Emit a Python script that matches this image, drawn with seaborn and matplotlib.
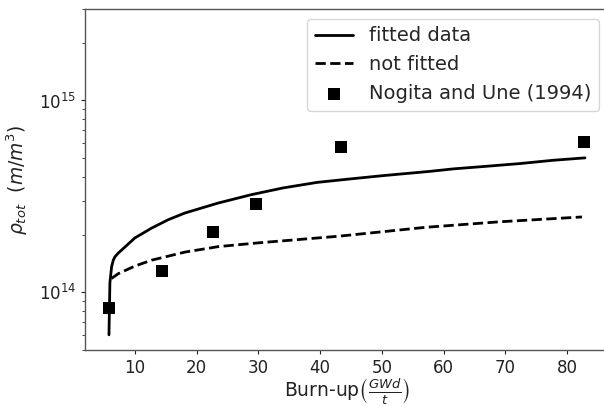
import matplotlib
matplotlib.use("Agg")
import matplotlib.pyplot as plt
import seaborn as sns

# values
fit_x = [5.8, 5.95, 6.23, 6.5, 6.76, 7.3, 10.0, 12.7, 15.4, 18.1, 23.5, 28.9, 34.0,
         39.5, 44.9, 50.3, 57.8, 61.6, 67.0, 72.4, 77.8, 82.9]
fit_y = [6.0e13, 1.12e14, 1.36e14, 1.47e14, 1.53e14, 1.60e14, 1.92e14, 2.16e14,
         2.39e14, 2.59e14, 2.92e14, 3.23e14, 3.50e14, 3.74e14, 3.90e14, 4.06e14,
         4.27e14, 4.40e14, 4.54e14, 4.69e14, 4.88e14, 5.02e14]

nofit_x = [6.2, 7.3, 10.0, 12.7, 18.1, 23.5, 30.0, 43.0, 57.0, 69.0, 82.4]
nofit_y = [1.18e14, 1.25e14, 1.37e14, 1.47e14, 1.62e14, 1.73e14, 1.81e14,
           1.96e14, 2.18e14, 2.33e14, 2.47e14]

exp_x = [5.8, 14.4, 22.65, 29.6, 43.4, 82.7]
exp_y = [8.3e13, 1.29e14, 2.07e14, 2.90e14, 5.71e14, 6.10e14]

sns.set_style("ticks")
plt.rcParams['font.family'] = ['DejaVu Sans']

fig = plt.figure(figsize=(6.04, 4.07), dpi=100)
ax = fig.add_axes([0.141, 0.140, 0.867, 0.838])

sns.lineplot(x=fit_x, y=fit_y, color='black', linewidth=2, label='fitted data', ax=ax)
sns.lineplot(x=nofit_x, y=nofit_y, color='black', linewidth=2, linestyle='--',
             label='not fitted', ax=ax)
sns.scatterplot(x=exp_x, y=exp_y, color='black', marker='s', s=75, edgecolor='none',
                label='Nogita and Une (1994)', ax=ax, zorder=3)

ax.set_yscale('log')
ax.set_ylim(5e13, 3e15)
ax.set_xticks([10, 20, 30, 40, 50, 60, 70, 80])
ax.tick_params(labelsize=12, colors='#222222', length=3)
ax.tick_params(which='minor', length=2)
for s in ax.spines.values():
    s.set_color('#555555')
    s.set_linewidth(1)
ax.spines['right'].set_visible(False)

ax.set_ylabel(r'$\rho_{tot}$  $(m/m^3)$', fontsize=13.5, color='#222222', labelpad=6)
ax.set_xlabel(r'Burn-up$\left(\frac{GWd}{t}\right)$', fontsize=13.5, color='#222222',
              labelpad=0)
ax.legend(loc='upper right', fontsize=14, frameon=True)

fig.savefig('out.png', dpi=100)
